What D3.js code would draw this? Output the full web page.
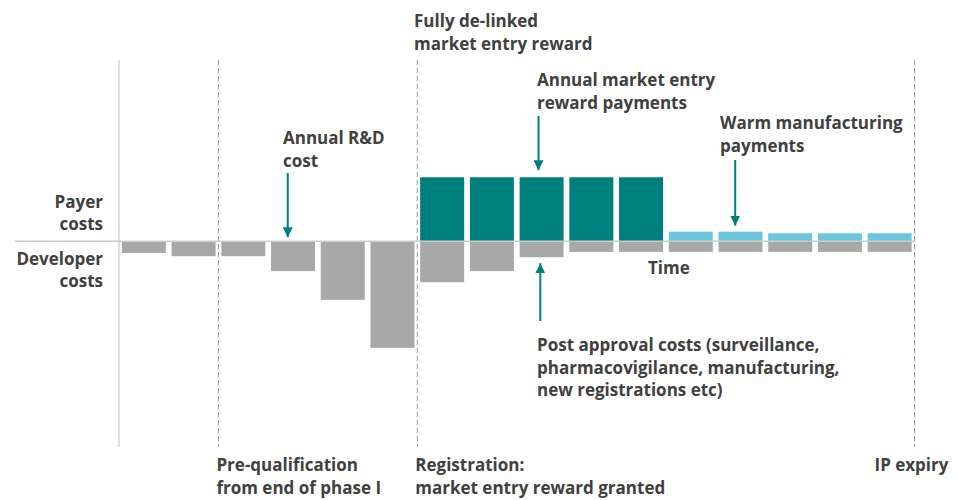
<!DOCTYPE html>
<html>
<head>
<meta charset="utf-8">
<script src="https://cdn.jsdelivr.net/npm/d3@7"></script>
<style>
  body { margin: 0; background: #fff; }
  text { font-family: "Open Sans", Lato, sans-serif; font-weight: 700; fill: #404040; }
</style>
</head>
<body>
<svg id="chart"></svg>
<script>
const w = 958,
      h = 500;

// one bar per year of the product life
const periods = d3.range(1, 17);
// developer costs (drawn below the line)
const developerCosts = [1.1, 1.4, 1.4, 2.8, 5.5, 10, 3.85, 2.8, 1.5, 1.0, 1.0, 1.0, 1.0, 1.0, 1.0, 1.0];
// payer costs (drawn above the line)
const rewardPayments = [0, 0, 0, 0, 0, 0, 6, 6, 6, 6, 6, 0, 0, 0, 0, 0];
const manufacturingPayments = [0, 0, 0, 0, 0, 0, 0, 0, 0, 0, 0, 0.9, 0.9, 0.75, 0.75, 0.75];

// milestones sit on the boundary before a period (17 = after last)
const milestonePeriods = [1, 3, 7, 17];
const milestoneLabels = [[], ['Pre-qualification', 'from end of phase I'], ['Registration:', 'market entry reward granted'], ['IP expiry']];

const svg = d3.select('#chart').attr('width', w).attr('height', h);

const x = d3.scaleBand().domain(periods).range([119, 914.5]).paddingInner(0.115).paddingOuter(0.0575);
const y = d3.scaleLinear().domain([-19.3, 17]).range([447, 60]);

const gap = x.step() * x.paddingInner() / 2;
const boundary = p => p > periods.length ? x(periods.length) + x.bandwidth() + gap : x(p) - gap;

const teal = '#007f7f', grey = '#a8a8a8', lightBlue = '#6ac6dc';

svg.append('defs').append('marker')
   .attr('id', 'head')
   .attr('viewBox', '0 0 10 10')
   .attr('refX', 10).attr('refY', 5)
   .attr('markerWidth', 10).attr('markerHeight', 10)
   .attr('markerUnits', 'userSpaceOnUse')
   .attr('orient', 'auto')
   .append('path').attr('d', 'M0,0L10,5L0,10Z').attr('fill', teal);

// milestone lines
svg.selectAll('line.milestone')
   .data(milestonePeriods)
   .enter().append('line')
   .attr('x1', d => boundary(d)).attr('x2', d => boundary(d))
   .attr('y1', y(17)).attr('y2', y(-19.3))
   .attr('stroke', (d, i) => i === 0 ? '#cccccc' : '#9a9a9a')
   .attr('stroke-width', (d, i) => i === 0 ? 1.2 : 1)
   .attr('stroke-dasharray', (d, i) => i === 0 ? null : '5,3');

// bars, one series at a time
const drawBars = (values, color, below) => {
    const rows = values.map((v, i) => ({p: periods[i], v: v})).filter(d => d.v > 0);
    svg.append('g').selectAll('rect')
       .data(rows)
       .enter().append('rect')
       .attr('x', d => x(d.p))
       .attr('y', d => below ? y(0) : y(d.v))
       .attr('width', x.bandwidth())
       .attr('height', d => below ? y(-d.v) - y(0) : y(0) - y(d.v))
       .attr('fill', color);
};

drawBars(developerCosts, grey, true);
drawBars(rewardPayments, teal, false);
drawBars(manufacturingPayments, lightBlue, false);

// baseline
svg.append('line')
   .attr('x1', 15).attr('x2', boundary(17))
   .attr('y1', y(0)).attr('y2', y(0))
   .attr('stroke', '#cccccc').attr('stroke-width', 1.5);

const label = (lines, lx, ly, anchor, lh) => {
    const t = svg.append('text').attr('x', lx).attr('y', ly)
                 .attr('text-anchor', anchor || 'start')
                 .style('font-size', '17px');
    lines.forEach((s, i) => t.append('tspan').attr('x', lx).attr('dy', i ? (lh || 22.5) : 0).text(s));
};

label(['Payer', 'costs'], 103, 208, 'end', 22);
label(['Developer', 'costs'], 103, 265, 'end', 22);
label(['Time'], 648, 274);

milestonePeriods.forEach((p, i) => {
    if (milestoneLabels[i].length) label(milestoneLabels[i], boundary(p) - (i === 3 ? 40 : 2), 471);
});

label(['Fully de-linked', 'market entry reward'], 414, 27);
label(['Annual market entry', 'reward payments'], 537, 86);
label(['Annual R&D', 'cost'], 283, 144);
label(['Warm manufacturing', 'payments'], 720, 129);
label(['Post approval costs (surveillance,', 'pharmacovigilance, manufacturing,', 'new registrations etc)'], 537, 351);

// arrows
const arrow = (ax, y1, y2) => svg.append('line')
    .attr('x1', ax).attr('x2', ax).attr('y1', y1).attr('y2', y2)
    .attr('stroke', teal).attr('stroke-width', 2)
    .attr('marker-end', 'url(#head)');

arrow(x(4) + x.bandwidth() * 0.38, 173, y(0) - 4);
arrow(x(9) + x.bandwidth() * 0.43, 116, y(rewardPayments[8]) - 7);
arrow(x(13) + x.bandwidth() * 0.38, 160, y(manufacturingPayments[12]) - 6);
arrow(x(9) + x.bandwidth() * 0.47, 321, y(-developerCosts[8]) + 6);
</script>
</body>
</html>
